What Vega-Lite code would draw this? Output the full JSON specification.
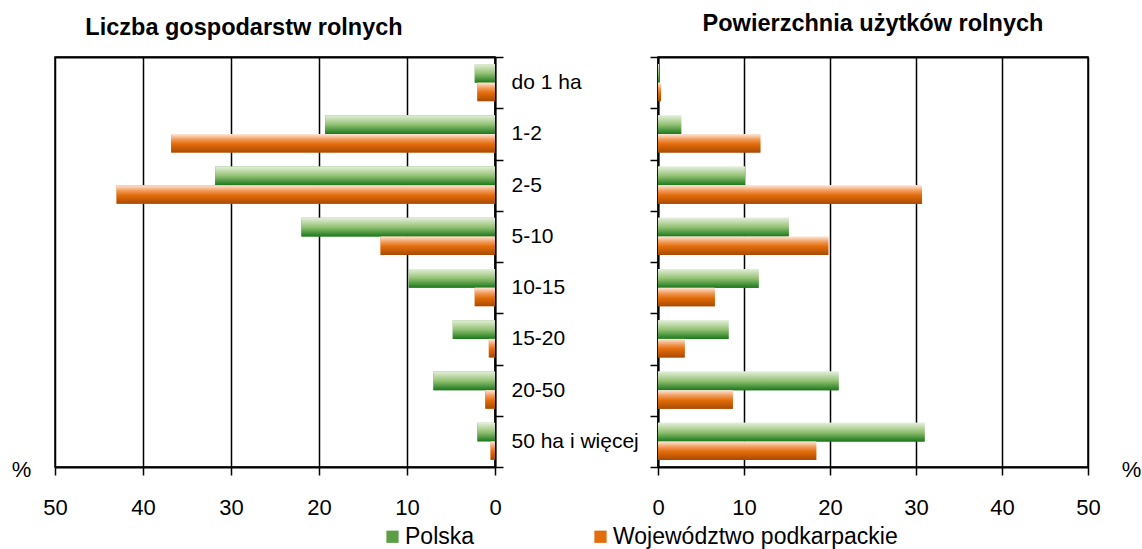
{
  "$schema": "https://vega.github.io/schema/vega-lite/v6.json",
  "padding": {"left": 10, "top": 11, "right": 0, "bottom": 0},
  "background": "white",
  "config": {
    "font": "Liberation Sans",
    "view": {"stroke": "#000", "strokeWidth": 1.5},
    "axis": {
      "domainColor": "#000", "domainWidth": 2,
      "tickColor": "#000", "tickWidth": 1.5,
      "gridColor": "#000", "gridWidth": 1.5, "gridOpacity": 1,
      "labelColor": "#000", "labelFont": "Liberation Sans",
      "titleColor": "#000", "titleFont": "Liberation Sans"
    }
  },
  "datasets": {
    "d": [
      {"panel": "left", "cat": "do 1 ha", "series": "Polska", "value": 2.3},
      {"panel": "left", "cat": "do 1 ha", "series": "Województwo podkarpackie", "value": 2.0},
      {"panel": "left", "cat": "1-2", "series": "Polska", "value": 19.3},
      {"panel": "left", "cat": "1-2", "series": "Województwo podkarpackie", "value": 36.8},
      {"panel": "left", "cat": "2-5", "series": "Polska", "value": 31.8},
      {"panel": "left", "cat": "2-5", "series": "Województwo podkarpackie", "value": 43.0},
      {"panel": "left", "cat": "5-10", "series": "Polska", "value": 22.0},
      {"panel": "left", "cat": "5-10", "series": "Województwo podkarpackie", "value": 13.0},
      {"panel": "left", "cat": "10-15", "series": "Polska", "value": 9.8},
      {"panel": "left", "cat": "10-15", "series": "Województwo podkarpackie", "value": 2.3},
      {"panel": "left", "cat": "15-20", "series": "Polska", "value": 4.8},
      {"panel": "left", "cat": "15-20", "series": "Województwo podkarpackie", "value": 0.7},
      {"panel": "left", "cat": "20-50", "series": "Polska", "value": 7.0},
      {"panel": "left", "cat": "20-50", "series": "Województwo podkarpackie", "value": 1.1},
      {"panel": "left", "cat": "50 ha i więcej", "series": "Polska", "value": 2.0},
      {"panel": "left", "cat": "50 ha i więcej", "series": "Województwo podkarpackie", "value": 0.5},
      {"panel": "right", "cat": "do 1 ha", "series": "Polska", "value": 0.1},
      {"panel": "right", "cat": "do 1 ha", "series": "Województwo podkarpackie", "value": 0.35},
      {"panel": "right", "cat": "1-2", "series": "Polska", "value": 2.7},
      {"panel": "right", "cat": "1-2", "series": "Województwo podkarpackie", "value": 11.9},
      {"panel": "right", "cat": "2-5", "series": "Polska", "value": 10.1},
      {"panel": "right", "cat": "2-5", "series": "Województwo podkarpackie", "value": 30.7},
      {"panel": "right", "cat": "5-10", "series": "Polska", "value": 15.2},
      {"panel": "right", "cat": "5-10", "series": "Województwo podkarpackie", "value": 19.8},
      {"panel": "right", "cat": "10-15", "series": "Polska", "value": 11.7},
      {"panel": "right", "cat": "10-15", "series": "Województwo podkarpackie", "value": 6.6},
      {"panel": "right", "cat": "15-20", "series": "Polska", "value": 8.2},
      {"panel": "right", "cat": "15-20", "series": "Województwo podkarpackie", "value": 3.1},
      {"panel": "right", "cat": "20-50", "series": "Polska", "value": 21.0},
      {"panel": "right", "cat": "20-50", "series": "Województwo podkarpackie", "value": 8.7},
      {"panel": "right", "cat": "50 ha i więcej", "series": "Polska", "value": 31.0},
      {"panel": "right", "cat": "50 ha i więcej", "series": "Województwo podkarpackie", "value": 18.4}
    ]
  },
  "spacing": 163,
  "bounds": "flush",
  "hconcat": [
    {
      "width": 440,
      "height": 410,
      "title": {"text": "Liczba gospodarstw rolnych", "fontSize": 23.5, "fontWeight": "bold", "offset": 7, "dx": -31, "anchor": "middle", "color": "#000"},
      "data": {"name": "d"},
      "transform": [{"filter": "datum.panel == 'left'"}],
      "encoding": {
        "y": {
          "field": "cat", "type": "nominal",
          "sort": ["do 1 ha", "1-2", "2-5", "5-10", "10-15", "15-20", "20-50", "50 ha i więcej"],
          "scale": {"paddingInner": 0, "paddingOuter": 0},
          "axis": {"orient": "right", "title": null, "tickBand": "extent", "tickSize": 8, "labelPadding": 8, "labelFontSize": 21, "labelAlign": "left"}
        },
        "yOffset": {
          "field": "series", "type": "nominal",
          "sort": ["Polska", "Województwo podkarpackie"],
          "scale": {"paddingOuter": 0.38, "paddingInner": 0}
        }
      },
      "layer": [
        {
          "mark": {"type": "bar"},
          "encoding": {
            "x": {
              "field": "value", "type": "quantitative",
              "scale": {"domain": [0, 50], "reverse": true, "nice": false},
              "axis": {"orient": "bottom", "values": [0, 10, 20, 30, 40, 50], "labelFlush": false, "grid": true, "tickSize": 8, "labelPadding": 22, "labelFontSize": 22, "title": "%", "titleX": -34, "titleY": 2, "titleAngle": 0, "titleAlign": "center", "titleBaseline": "middle", "titleFontSize": 22, "titleFontWeight": "normal"}
            },
            "color": {
              "field": "series", "type": "nominal",
              "scale": {"domain": ["Polska", "Województwo podkarpackie"], "range": ["#5c9e45", "#e36c0a"]},
              "legend": {
                "orient": "none", "legendX": 326, "legendY": 468, "direction": "horizontal", "title": null, "padding": 0,
                "symbolType": "square", "symbolSize": 150, "symbolStrokeWidth": 0, "labelFontSize": 23, "labelOffset": 1, "labelLimit": 0, "columnPadding": 114, "labelColor": "#000", "labelFont": "Liberation Sans",
                "encode": {
                  "symbols": {
                    "enter": {
                      "fill": {"signal": "datum.value === 'Polska' ? {gradient: 'linear', x1: 0, y1: 0, x2: 0, y2: 1, stops: [{offset: 0, color: '#e4efda'}, {offset: 0.5, color: '#93c173'}, {offset: 1, color: '#1c791c'}]} : {gradient: 'linear', x1: 0, y1: 0, x2: 0, y2: 1, stops: [{offset: 0, color: '#fde9dc'}, {offset: 0.3, color: '#f29a58'}, {offset: 0.55, color: '#e36c0a'}, {offset: 1, color: '#a94a02'}]}"}
                    },
                    "update": {
                      "fill": {"signal": "datum.value === 'Polska' ? {gradient: 'linear', x1: 0, y1: 0, x2: 0, y2: 1, stops: [{offset: 0, color: '#e4efda'}, {offset: 0.5, color: '#93c173'}, {offset: 1, color: '#1c791c'}]} : {gradient: 'linear', x1: 0, y1: 0, x2: 0, y2: 1, stops: [{offset: 0, color: '#fde9dc'}, {offset: 0.3, color: '#f29a58'}, {offset: 0.55, color: '#e36c0a'}, {offset: 1, color: '#a94a02'}]}"}
                    }
                  }
                }
              }
            }
          }
        },
        {
          "mark": {"type": "bar"},
          "encoding": {
            "x": {
              "field": "value", "type": "quantitative",
              "scale": {"domain": [0, 50], "reverse": true, "nice": false},
              "axis": {"orient": "top", "labels": false, "ticks": false, "grid": false, "title": null, "domain": true}
            },
            "color": {
              "condition": {
                "test": "datum.series === 'Polska'",
                "value": {"gradient": "linear", "x1": 0, "y1": 0, "x2": 0, "y2": 1, "stops": [{"offset": 0, "color": "#e4efda"}, {"offset": 0.5, "color": "#93c173"}, {"offset": 1, "color": "#1c791c"}]}
              },
              "value": {"gradient": "linear", "x1": 0, "y1": 0, "x2": 0, "y2": 1, "stops": [{"offset": 0, "color": "#fde9dc"}, {"offset": 0.3, "color": "#f29a58"}, {"offset": 0.55, "color": "#e36c0a"}, {"offset": 1, "color": "#a94a02"}]}
            }
          }
        }
      ],
      "resolve": {"axis": {"x": "independent"}}
    },
    {
      "width": 430,
      "height": 410,
      "title": {"text": "Powierzchnia użytków rolnych", "fontSize": 23.5, "fontWeight": "bold", "offset": 21, "dx": 0, "anchor": "middle", "color": "#000"},
      "data": {"name": "d"},
      "transform": [{"filter": "datum.panel == 'right'"}],
      "encoding": {
        "y": {
          "field": "cat", "type": "nominal",
          "sort": ["do 1 ha", "1-2", "2-5", "5-10", "10-15", "15-20", "20-50", "50 ha i więcej"],
          "scale": {"paddingInner": 0, "paddingOuter": 0},
          "axis": {"orient": "left", "title": null, "tickBand": "extent", "tickSize": 8, "labels": false}
        },
        "yOffset": {
          "field": "series", "type": "nominal",
          "sort": ["Polska", "Województwo podkarpackie"],
          "scale": {"paddingOuter": 0.38, "paddingInner": 0}
        },
        "color": {
          "condition": {
            "test": "datum.series === 'Polska'",
            "value": {"gradient": "linear", "x1": 0, "y1": 0, "x2": 0, "y2": 1, "stops": [{"offset": 0, "color": "#e4efda"}, {"offset": 0.5, "color": "#93c173"}, {"offset": 1, "color": "#1c791c"}]}
          },
          "value": {"gradient": "linear", "x1": 0, "y1": 0, "x2": 0, "y2": 1, "stops": [{"offset": 0, "color": "#fde9dc"}, {"offset": 0.3, "color": "#f29a58"}, {"offset": 0.55, "color": "#e36c0a"}, {"offset": 1, "color": "#a94a02"}]}
        }
      },
      "layer": [
        {
          "mark": {"type": "bar"},
          "encoding": {
            "x": {
              "field": "value", "type": "quantitative",
              "scale": {"domain": [0, 50], "nice": false},
              "axis": {"orient": "bottom", "values": [0, 10, 20, 30, 40, 50], "labelFlush": false, "grid": true, "tickSize": 8, "labelPadding": 22, "labelFontSize": 22, "title": "%", "titleX": 473, "titleY": 2, "titleAngle": 0, "titleAlign": "center", "titleBaseline": "middle", "titleFontSize": 22, "titleFontWeight": "normal"}
            }
          }
        },
        {
          "mark": {"type": "bar"},
          "encoding": {
            "x": {
              "field": "value", "type": "quantitative",
              "scale": {"domain": [0, 50], "nice": false},
              "axis": {"orient": "top", "labels": false, "ticks": false, "grid": false, "title": null, "domain": true}
            }
          }
        }
      ],
      "resolve": {"axis": {"x": "independent"}}
    }
  ]
}
